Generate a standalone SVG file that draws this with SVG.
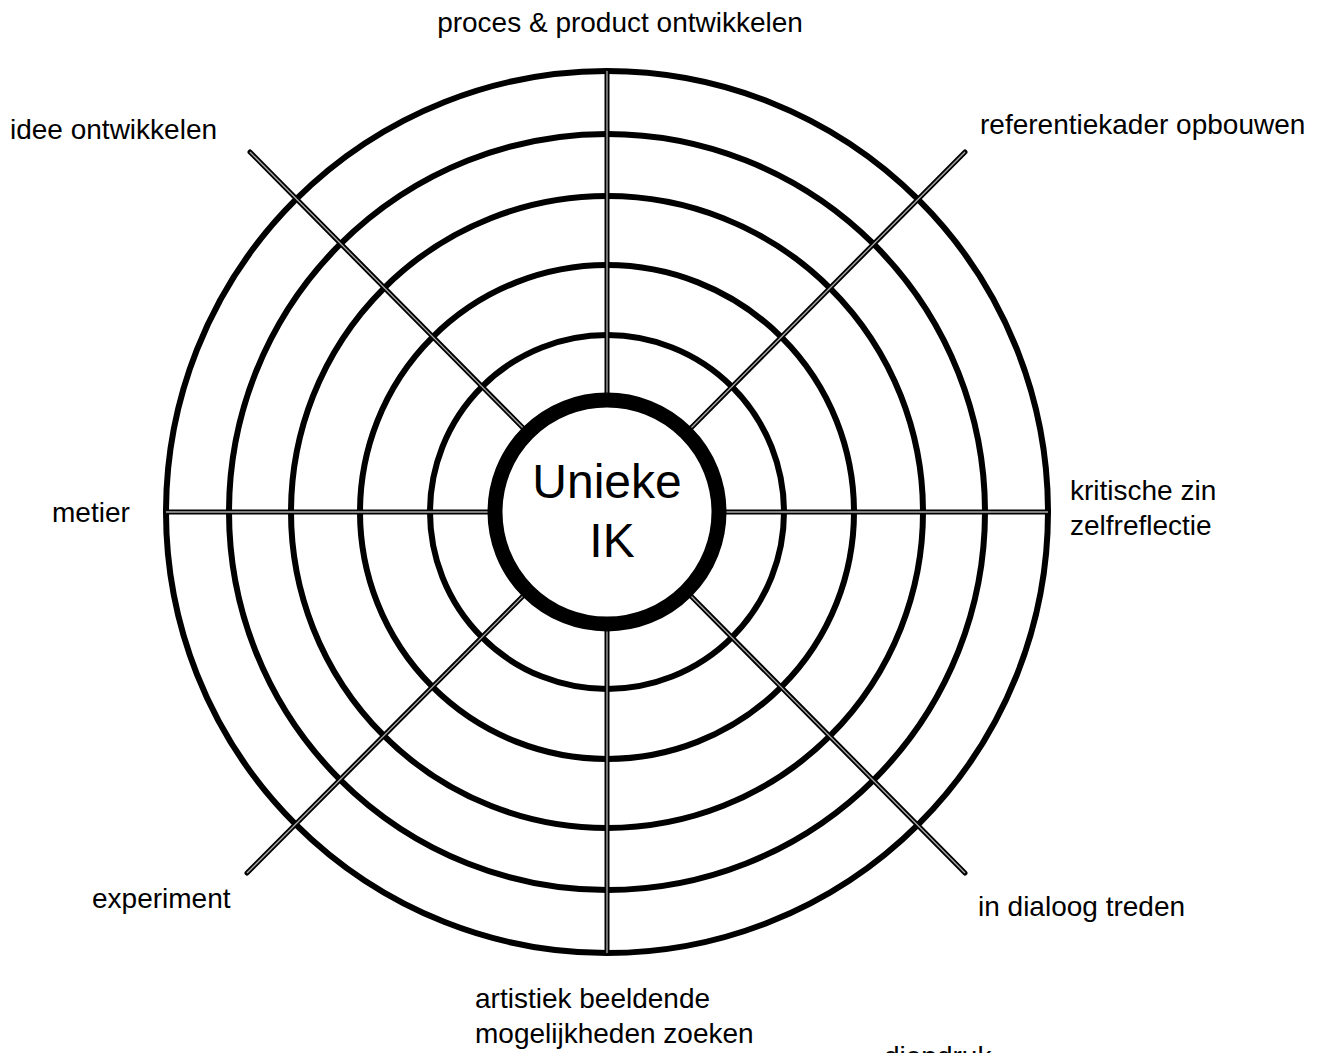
<svg xmlns="http://www.w3.org/2000/svg" xmlns:xlink="http://www.w3.org/1999/xlink" width="1325" height="1053" viewBox="0 0 1325 1053">
<style>
.ring{fill:none;stroke:#000;stroke-width:6}
.core{fill:#fff;stroke:#000;stroke-width:15}
.sp-o{stroke:#000;stroke-width:5;stroke-linecap:round;fill:none}
.sp-i{stroke:#aaa;stroke-width:1.3;fill:none}
text{font-family:"Liberation Sans",Arial,sans-serif;font-size:28px;fill:#000}
.big{font-size:48px}
</style>
<rect width="1325" height="1053" fill="#fff"/>
<g id="rings">
<circle class="ring" cx="607" cy="512" r="441"/>
<circle class="ring" cx="607" cy="512" r="378"/>
<circle class="ring" cx="607" cy="512" r="316"/>
<circle class="ring" cx="607" cy="512" r="247"/>
<circle class="ring" cx="607" cy="512" r="177"/>
</g>
<g id="connectors">
<path id="spokes" class="sp-o" d="M607 71V399M607 625V953M166 512H494M720 512H1048M250 152L527 432M965 152L687 432M247 873L527 592M965 873L687 592"/>
<path class="sp-i" d="M607 71V399M607 625V953M166 512H494M720 512H1048M250 152L527 432M965 152L687 432M247 873L527 592M965 873L687 592"/>
</g>
<g id="center">
<circle class="core" cx="607" cy="512" r="112"/>
<text class="big" x="607" y="498" text-anchor="middle">Unieke</text>
<text class="big" x="612" y="557" text-anchor="middle">IK</text>
</g>
<g id="labels">
<text x="620" y="32" text-anchor="middle">proces &amp; product ontwikkelen</text>
<text x="10" y="139">idee ontwikkelen</text>
<text x="980" y="134">referentiekader opbouwen</text>
<text x="52" y="522">metier</text>
<text x="1070" y="500">kritische zin</text>
<text x="1070" y="535">zelfreflectie</text>
<text x="92" y="908">experiment</text>
<text x="978" y="916">in dialoog treden</text>
<text x="475" y="1008">artistiek beeldende</text>
<text x="475" y="1043">mogelijkheden zoeken</text>
<text x="884" y="1066">diepdruk</text>
</g>
</svg>
